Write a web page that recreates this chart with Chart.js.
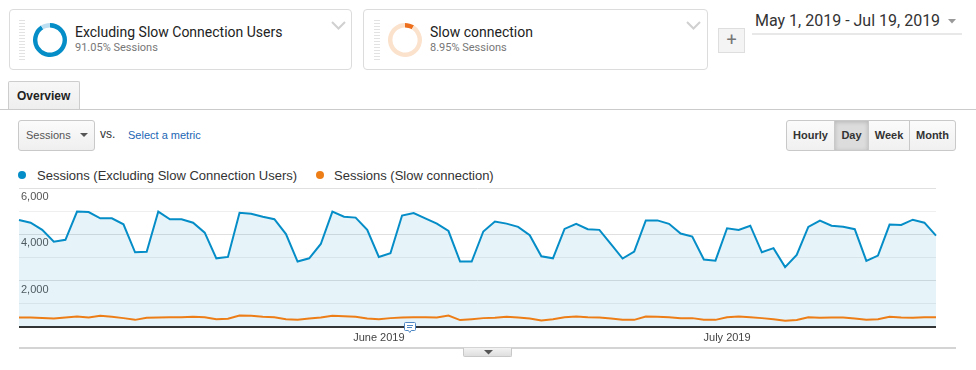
<!DOCTYPE html>
<html>
<head>
<meta charset="UTF-8">
<title>Sessions - Slow connection</title>
<script src="https://cdn.jsdelivr.net/npm/chart.js@4.4.1/dist/chart.umd.min.js"></script>
<style>
  body { margin:0; width:976px; height:370px; overflow:hidden; position:relative; background:#fff;
         font-family:"Liberation Sans", Arial, sans-serif; color:#333; }
  .abs { position:absolute; }
  .segment { position:absolute; top:9px; height:61px; box-sizing:border-box; border:1px solid #dcdcdc; border-radius:4px; }
  .grip { position:absolute; top:20px; width:6px; height:42px;
          background:repeating-linear-gradient(to bottom, #e2e2e2 0 1px, #fff 1px 3px); }
  .segTitle { position:absolute; top:24px; font:14px/16px Roboto, sans-serif; color:#222; white-space:nowrap; }
  .segSub { position:absolute; top:41px; font:11px/13px Roboto, sans-serif; color:#777; white-space:nowrap; }
  .btn { position:absolute; top:120px; height:31px; box-sizing:border-box; border:1px solid #c9c9c9;
         background:linear-gradient(#fbfbfb, #f0f0f0); font:bold 11px/29px "Liberation Sans", Arial, sans-serif;
         color:#333; text-align:center; }
  .legText { position:absolute; top:168px; font:13px/15px "Liberation Sans", Arial, sans-serif; color:#333; white-space:nowrap; }
  .dot { position:absolute; top:171px; width:8px; height:8px; border-radius:50%; }
</style>
</head>
<body>
  <!-- segment cards -->
  <div class="segment" style="left:9px; width:343px;"></div>
  <div class="grip" style="left:19px;"></div>
  <canvas id="donut0" class="abs" width="36" height="36" style="left:32px; top:22px;"></canvas>
  <div class="segTitle" id="segTitle0" style="left:75px;"></div>
  <div class="segSub" id="segSub0" style="left:75px;"></div>
  <svg class="abs" style="left:331px; top:21px;" width="15" height="9"><polyline points="1,1 7.5,7.5 14,1" fill="none" stroke="#d0d0d0" stroke-width="2"/></svg>

  <div class="segment" style="left:363px; width:345px;"></div>
  <div class="grip" style="left:374px;"></div>
  <canvas id="donut1" class="abs" width="36" height="36" style="left:387px; top:22px;"></canvas>
  <div class="segTitle" id="segTitle1" style="left:430px;"></div>
  <div class="segSub" id="segSub1" style="left:430px;"></div>
  <svg class="abs" style="left:686px; top:21px;" width="15" height="9"><polyline points="1,1 7.5,7.5 14,1" fill="none" stroke="#d0d0d0" stroke-width="2"/></svg>

  <div class="abs" style="left:718px; top:28px; width:27px; height:25px; box-sizing:border-box; border:1px solid #dedede; background:#f4f4f4; color:#777; font:18px/22px Roboto, sans-serif; text-align:center;">+</div>

  <!-- date range -->
  <div class="abs" style="left:755px; top:12px; font:16px/18px Roboto, sans-serif; color:#333; white-space:nowrap;">May 1, 2019 - Jul 19, 2019</div>
  <svg class="abs" style="left:948px; top:19px;" width="8" height="5"><polygon points="0,0 8,0 4,4.5" fill="#999"/></svg>
  <div class="abs" style="left:752px; top:33px; width:210px; height:2px; background:#e8e8e8;"></div>

  <!-- tab -->
  <div class="abs" style="left:8px; top:81px; width:72px; height:29px; box-sizing:border-box; border:1px solid #cdcdcd; border-bottom:none; border-radius:2px 2px 0 0; background:linear-gradient(#f7f7f7,#eeeeee); font:bold 12px/28px 'Liberation Sans', Arial, sans-serif; color:#222; padding-left:8px;">Overview</div>
  <div class="abs" style="left:0; top:109px; width:976px; height:1px; background:#cbcbcb;"></div>

  <!-- metric picker -->
  <div class="abs" style="left:18px; top:120px; width:77px; height:31px; box-sizing:border-box; border:1px solid #c9c9c9; border-radius:3px; background:linear-gradient(#fbfbfb,#efefef); font:11px/29px 'Liberation Sans', Arial, sans-serif; color:#555; padding-left:7px;">Sessions</div>
  <svg class="abs" style="left:80px; top:133px;" width="8" height="5"><polygon points="0,0 8,0 4,4" fill="#555"/></svg>
  <div class="abs" style="left:100px; top:127px; font:12px/14px 'Liberation Sans', Arial, sans-serif; color:#333;">vs.</div>
  <div class="abs" style="left:128px; top:128px; font:11px/14px 'Liberation Sans', Arial, sans-serif; color:#1c66b4; white-space:nowrap;">Select a metric</div>

  <!-- granularity buttons -->
  <div class="btn" style="left:786px; width:49px; border-radius:3px 0 0 3px;">Hourly</div>
  <div class="btn" style="left:834px; width:35px; background:#dcdcdc; box-shadow:inset 0 1px 4px rgba(0,0,0,0.18);">Day</div>
  <div class="btn" style="left:868px; width:42px;">Week</div>
  <div class="btn" style="left:909px; width:47px; border-radius:0 3px 3px 0;">Month</div>

  <!-- legend -->
  <div class="dot" style="left:18px; background:#058dc7;"></div>
  <div class="legText" id="leg0" style="left:37px;"></div>
  <div class="dot" style="left:316px; background:#ed7e17;"></div>
  <div class="legText" id="leg1" style="left:334px;"></div>

  <!-- chart -->
  <canvas id="trend" class="abs" width="976" height="175" style="left:0; top:178px;"></canvas>

  <svg class="abs" style="left:404px; top:322px;" width="13" height="12">
    <path d="M1.5,0.5 H10.5 A1,1 0 0 1 11.5,1.5 V7.5 A1,1 0 0 1 10.5,8.5 H7.2 L5.8,10.5 L4.4,8.5 H1.5 A1,1 0 0 1 0.5,7.5 V1.5 A1,1 0 0 1 1.5,0.5 Z" fill="#fff" stroke="#4f87c4" stroke-width="1"/>
    <path d="M3,3.5 H9 M3,5.5 H8" stroke="#4f87c4" stroke-width="1"/>
  </svg>

  <div class="abs" style="left:19px; top:347px; width:937px; height:2px; background:#d4d4d4;"></div>
  <div class="abs" style="left:463px; top:348px; width:49px; height:9px; box-sizing:border-box; border:1px solid #c8c8c8; border-top:none; border-radius:0 0 2px 2px; background:linear-gradient(#f2f2f2,#dedede);"></div>
  <svg class="abs" style="left:484px; top:350px;" width="9" height="5"><polygon points="0,0 9,0 4.5,4.5" fill="#555"/></svg>

<script>
  // segments
  var segmentNames = ['Excluding Slow Connection Users', 'Slow connection'];
  var segmentShare = [91.05, 8.95];

  // series
  var seriesNames = ['Sessions (Excluding Slow Connection Users)', 'Sessions (Slow connection)'];
  var sessionsExcluding = [
    4620, 4500, 4190, 3680, 3760, 4980, 4960, 4690, 4690, 4430,
    3220, 3240, 4980, 4650, 4650, 4500, 4070, 2960, 3020, 4930,
    4890, 4760, 4650, 4010, 2820, 2960, 3580, 4980, 4760, 4720,
    4190, 3020, 3180, 4810, 4920, 4690, 4460, 4140, 2820, 2820,
    4120, 4550, 4460, 4320, 3960, 3050, 2960, 4230, 4450, 4220,
    4190, 3570, 2950, 3250, 4600, 4600, 4450, 4030, 3900, 2910,
    2860, 4260, 4190, 4370, 3220, 3400, 2580, 3110, 4320, 4590,
    4370, 4320, 4220, 2850, 3080, 4420, 4400, 4630, 4500, 3940
  ];
  var sessionsSlow = [
    405, 400, 385, 360, 400, 445, 400, 475, 430, 375,
    300, 390, 400, 415, 415, 430, 415, 330, 345, 490,
    475, 430, 415, 330, 300, 360, 400, 475, 460, 430,
    360, 330, 375, 400, 415, 415, 400, 490, 290, 330,
    375, 390, 430, 400, 360, 275, 330, 415, 445, 415,
    400, 360, 300, 300, 445, 430, 415, 375, 375, 300,
    300, 415, 445, 415, 375, 330, 260, 290, 415, 390,
    400, 400, 360, 300, 330, 430, 400, 390, 415, 415
  ];

  // axis
  var startDay = '2019-05-01';
  var endDay = '2019-07-19';
  var tickDates = ['2019-06-01', '2019-07-01'];
  var tickLabels = ['June 2019', 'July 2019'];
  var yTickValues = [2000, 4000, 6000];

  var days = [];
  for (var d = new Date(startDay + 'T00:00:00Z'); d.toISOString().slice(0, 10) <= endDay; d.setUTCDate(d.getUTCDate() + 1)) {
    days.push(d.toISOString().slice(0, 10));
  }

  Chart.defaults.font.family = '"Liberation Sans", Arial, sans-serif';

  // texts
  segmentNames.forEach(function(name, i) {
    document.getElementById('segTitle' + i).textContent = name;
    document.getElementById('segSub' + i).textContent = segmentShare[i].toFixed(2) + '% Sessions';
  });
  seriesNames.forEach(function(name, i) {
    document.getElementById('leg' + i).textContent = name;
  });

  // segment donuts
  var donutColors = [['#058dc7', '#bcdff1'], ['#ed6f1c', '#fbe2cd']];
  segmentShare.forEach(function(share, i) {
    var rest = 100 - share;
    new Chart(document.getElementById('donut' + i), {
      type: 'doughnut',
      data: { datasets: [{ data: [share, rest], backgroundColor: donutColors[i], borderWidth: 0 }] },
      options: {
        responsive: false, animation: false, events: [], cutout: '74%',
        layout: { padding: 1 },
        plugins: { legend: { display: false }, tooltip: { enabled: false } }
      }
    });
  });

  // trend chart
  new Chart(document.getElementById('trend'), {
    type: 'line',
    data: {
      labels: days,
      datasets: [
        { label: seriesNames[0], data: sessionsExcluding, borderColor: '#058dc7', backgroundColor: 'rgba(5,141,199,0.1)',
          fill: 'origin', borderWidth: 2, pointRadius: 0, tension: 0 },
        { label: seriesNames[1], data: sessionsSlow, borderColor: '#ed7e17', backgroundColor: '#ed7e17',
          fill: false, borderWidth: 2, pointRadius: 0, tension: 0 }
      ]
    },
    options: {
      responsive: false, animation: false, events: [],
      layout: { padding: { left: 15, right: 40, top: 10, bottom: 3 } },
      plugins: {
        legend: { display: false },
        tooltip: { enabled: false },
        filler: { drawTime: 'beforeDatasetsDraw' }
      },
      scales: {
        x: {
          grid: { display: false, drawTicks: false },
          border: { display: false },
          ticks: {
            autoSkip: false, maxRotation: 0, padding: 5, color: '#444', font: { size: 11 },
            callback: function(v, i) {
              var k = tickDates.indexOf(days[i]);
              return k >= 0 ? tickLabels[k] : '';
            }
          }
        },
        y: {
          min: 0, max: 6000,
          border: { display: false },
          grid: {
            drawTicks: false,
            color: function(c) {
              if (c.tick.value === 0) return '#333';
              return c.tick.value % 2000 === 0 ? '#e0e0e0' : '#efefef';
            },
            lineWidth: function(c) { return c.tick.value === 0 ? 2 : 1; }
          },
          ticks: {
            stepSize: 1000, mirror: true, padding: 2, labelOffset: 9, color: '#555', font: { size: 11 },
            textStrokeColor: 'rgba(255,255,255,0.9)', textStrokeWidth: 3,
            callback: function(v) { return yTickValues.indexOf(v) >= 0 ? v.toLocaleString('en-US') : ''; }
          }
        }
      }
    }
  });
</script>
</body>
</html>
